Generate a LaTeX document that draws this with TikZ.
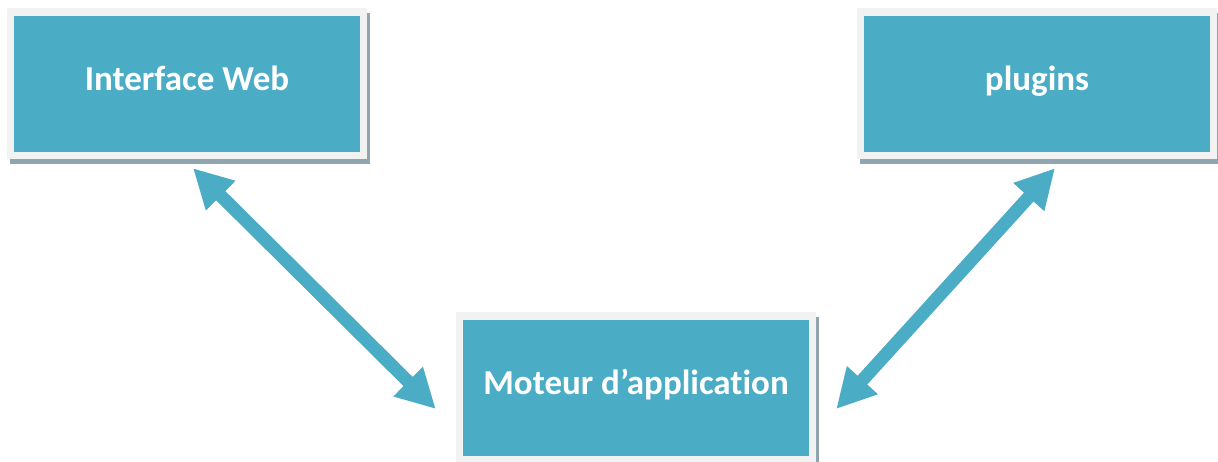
\documentclass[tikz,border=0pt]{standalone}
\usepackage{fontspec}
\setmainfont{Carlito}[Ligatures=NoCommon]
\usetikzlibrary{arrows.meta,shadows}
\definecolor{blocteal}{RGB}{75,172,198}
\definecolor{blocframe}{RGB}{242,242,242}
\definecolor{blocshadow}{RGB}{143,166,176}
\tikzset{
 bloc/.style={fill=blocframe,minimum width=360pt,minimum height=151pt,inner sep=0pt,
  text=white,font=\fontsize{35}{40}\selectfont\bfseries,text height=24pt,text depth=10pt,
  drop shadow={shadow xshift=3pt,shadow yshift=-5pt,fill=blocshadow,opacity=1},
  path picture={\fill[blocteal] ([shift={(7pt,-7.5pt)}]path picture bounding box.north west)
   rectangle ([shift={(-7.5pt,7.5pt)}]path picture bounding box.south east);}},
 lien/.style={blocteal,line width=13pt,{Triangle[length=39pt,width=39pt]}-{Triangle[length=39pt,width=39pt]}}
}
\begin{document}
\begin{tikzpicture}[x=1pt,y=-1pt]
 \useasboundingbox[fill=white] (0,0) rectangle (1218,461);
 \node[bloc] (web) at (187,83.5) {Interface Web};
 \node[bloc] (plugins) at (1037,83.5) {plugins};
 \node[bloc] (moteur) at (636,387.5) {Moteur d’application};
 \draw[lien] ([shift={(6,9)}]web.south) -- ([shift={(-20,21.5)}]moteur.west);
 \draw[lien] ([shift={(18,9)}]plugins.south) -- ([shift={(20,21.5)}]moteur.east);
\end{tikzpicture}
\end{document}
